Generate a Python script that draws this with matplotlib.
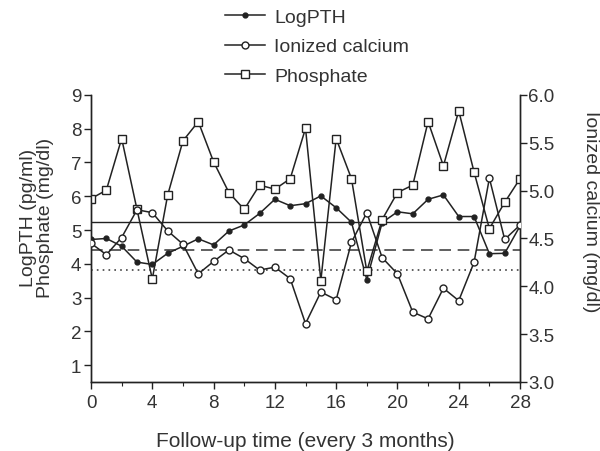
import numpy as np
import matplotlib
matplotlib.use('Agg')
import matplotlib.pyplot as plt
from matplotlib.ticker import MultipleLocator

plt.rcParams['font.family'] = ['Liberation Sans', 'DejaVu Sans']

# follow-up visits (every 3 months)
visits = list(range(29))

# left axis: LogPTH (pg/ml) and phosphate (mg/dl)
log_pth = [4.72, 4.75, 4.52, 4.05, 3.98, 4.31, 4.52, 4.74, 4.56, 4.97,
           5.15, 5.49, 5.91, 5.72, 5.78, 6.01, 5.66, 5.23, 3.53, 5.22,
           5.54, 5.48, 5.91, 6.04, 5.40, 5.40, 4.30, 4.31, 5.12]
phosphate = [5.93, 6.18, 7.71, 5.61, 3.55, 6.03, 7.64, 8.21, 7.02, 6.11,
             5.61, 6.33, 6.21, 6.52, 8.01, 3.50, 7.71, 6.52, 3.78, 5.31,
             6.11, 6.33, 8.21, 6.90, 8.53, 6.72, 5.04, 5.82, 6.52]

# right axis: ionized calcium (mg/dl)
calcium = [4.45, 4.33, 4.51, 4.80, 4.77, 4.58, 4.44, 4.13, 4.26, 4.38,
           4.29, 4.17, 4.20, 4.08, 3.61, 3.94, 3.86, 4.46, 4.77, 4.30,
           4.13, 3.73, 3.66, 3.98, 3.85, 4.25, 5.13, 4.49, 4.64]

# horizontal reference levels (left axis units)
ref_solid = 5.25
ref_dashed = 4.42
ref_dotted = 3.83

ink = '#222222'
txt = '#333333'

fig = plt.figure(figsize=(6, 4.52), dpi=100)
ax = fig.add_axes([0.1517, 0.1527, 0.715, 0.635])
ax2 = ax.twinx()

# reference lines
ax.plot([0, 28], [ref_solid, ref_solid], color=ink, lw=1.0, zorder=1)
ax.plot([0, 28], [ref_dashed, ref_dashed], color='#444444', lw=1.2,
        dashes=(7, 4), zorder=1)
ax.plot([0, 28], [ref_dotted, ref_dotted], color='#444444', lw=1.2,
        dashes=(1, 2.5), zorder=1)

l1, = ax.plot(visits, log_pth, color=ink, lw=1.1, marker='o', ms=3.5,
              mfc=ink, mec=ink, label='LogPTH', zorder=3)
l3, = ax.plot(visits, phosphate, color=ink, lw=1.1, marker='s', ms=5.5,
              mfc='white', mec=ink, mew=1.0, label='Phosphate', zorder=3)
l2, = ax2.plot(visits, calcium, color=ink, lw=1.1, marker='o', ms=5,
               mfc='white', mec=ink, mew=1.0, label='Ionized calcium', zorder=3)

ax.set_xlim(0, 28)
ax.set_ylim(0.5, 9)
ax2.set_ylim(3, 6)

ax.set_xticks(range(0, 29, 4))
ax.xaxis.set_minor_locator(MultipleLocator(2))
ax.set_yticks(range(1, 10))
ax2.set_yticks(np.arange(3, 6.01, 0.5))
ax2.set_yticklabels(['%.1f' % v for v in np.arange(3, 6.01, 0.5)])

for a in (ax, ax2):
    a.spines['top'].set_visible(False)
    for s in a.spines.values():
        s.set_color(ink)
        s.set_linewidth(1.0)
    a.tick_params(colors=ink, labelcolor=txt, labelsize=13.5, width=1.0,
                  length=5, direction='out')
    a.tick_params(which='minor', length=3, width=0.8, colors=ink)
ax.tick_params(axis='x', pad=4)
ax2.tick_params(axis='y', pad=1)
ax.tick_params(axis='y', pad=2)

ax.set_xlabel('Follow-up time (every 3 months)', fontsize=15, color=txt,
              labelpad=14)

# axis titles placed where the reference has them
fig.text(37 / 600, 1 - 218 / 452, 'LogPTH (pg/ml)\nPhosphate (mg/dl)',
         rotation=90, ha='center', va='center', fontsize=14, color=txt,
         linespacing=1.05, multialignment='center')
fig.text(591 / 600, 1 - 212 / 452, 'Ionized calcium (mg/dl)',
         rotation=270, ha='center', va='center', fontsize=14, color=txt)

fig.legend(handles=[l1, l2, l3], loc='upper left',
           bbox_to_anchor=(0.352, 1.01), frameon=False, fontsize=14,
           handlelength=2.05, handletextpad=0.5, labelspacing=0.62,
           borderpad=0.2, labelcolor=txt)

fig.savefig('out.png', dpi=100)
